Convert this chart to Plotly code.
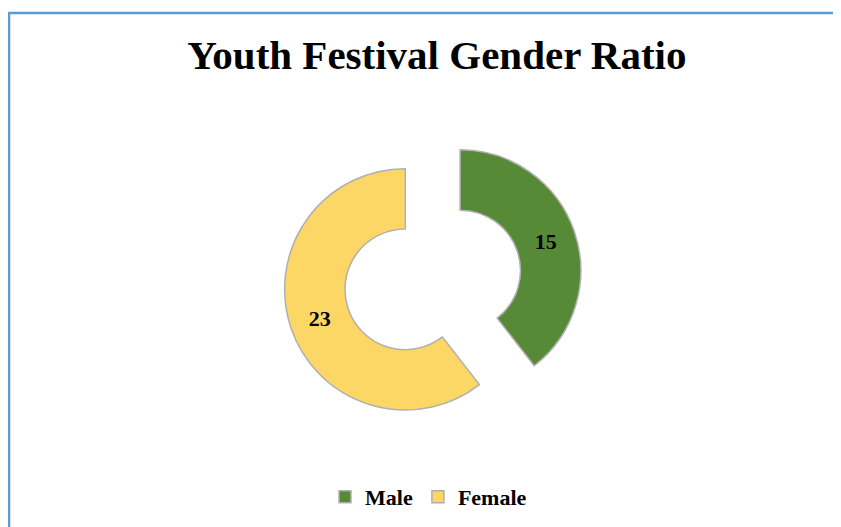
import plotly.graph_objects as go

# data
labels = ["Male", "Female"]
values = [15, 23]
colors = ["#578a37", "#fdd765"]

fig = go.Figure()

fig.add_trace(go.Pie(
    labels=labels,
    values=values,
    hole=0.5,
    sort=False,
    direction="clockwise",
    rotation=0,
    pull=[0.24, 0.24],
    marker=dict(colors=colors, line=dict(color="#b0b0b0", width=1.5)),
    textinfo="value",
    texttemplate="<b>%{value}</b>",
    textposition="inside",
    insidetextorientation="horizontal",
    textfont=dict(family="Liberation Serif", size=22, color="black"),
    domain=dict(x=[0.24, 0.77], y=[0.2, 0.768]),
    hoverinfo="label+value+percent",
))

fig.update_layout(
    width=841,
    height=527,
    margin=dict(l=0, r=0, t=0, b=0),
    paper_bgcolor="white",
    plot_bgcolor="white",
    title=dict(
        text="<b>Youth Festival Gender Ratio</b>",
        x=0.51, xanchor="center",
        y=1 - 47 / 527, yanchor="middle",
        font=dict(family="Liberation Serif", size=41, color="black"),
    ),
    showlegend=True,
    legend=dict(
        orientation="h",
        x=0.5, xanchor="center",
        y=1 - 489 / 527, yanchor="middle",
        font=dict(family="Liberation Serif", size=22, color="black", weight="bold"),
        itemwidth=30,
        traceorder="normal",
    ),
    shapes=[dict(
        type="rect", xref="paper", yref="paper",
        x0=1 / 841, x1=1.05, y0=-0.05, y1=1 - 5 / 527,
        line=dict(color="#5b9bd5", width=2.5),
        fillcolor="rgba(0,0,0,0)",
    )],
)

fig.write_html("out.html")
